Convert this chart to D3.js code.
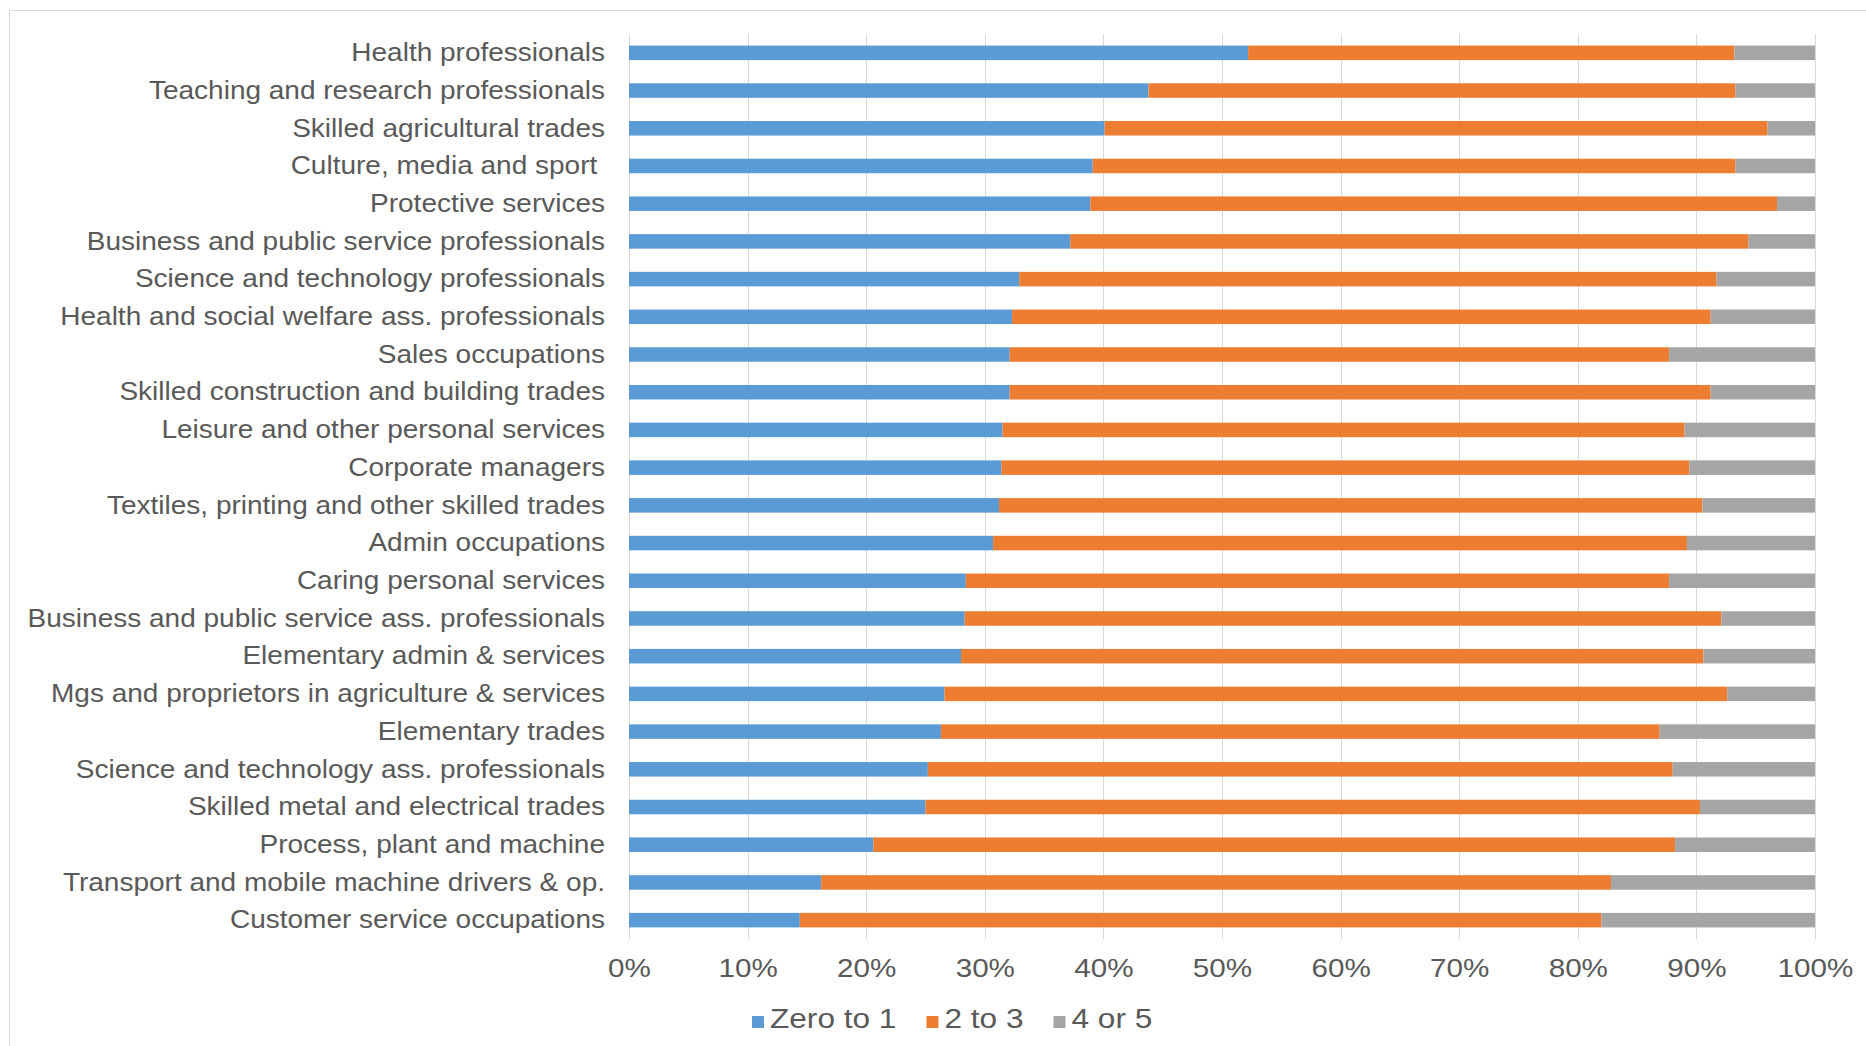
<!DOCTYPE html>
<html>
<head>
<meta charset="utf-8">
<script src="https://cdn.jsdelivr.net/npm/d3@7"></script>
<style>
  html, body { margin: 0; padding: 0; background: #fff; }
  svg { display: block; }
  text { font-family: "Liberation Sans", Arial, sans-serif; fill: #595959; }
</style>
</head>
<body>
<svg id="chart" width="1866" height="1046"></svg>
<script>
// Occupational groups, top to bottom
const categories = [
  "Health professionals",
  "Teaching and research professionals",
  "Skilled agricultural trades",
  "Culture, media and sport ",
  "Protective services",
  "Business and public service professionals",
  "Science and technology professionals",
  "Health and social welfare ass. professionals",
  "Sales occupations",
  "Skilled construction and building trades",
  "Leisure and other personal services",
  "Corporate managers",
  "Textiles, printing and other skilled trades",
  "Admin occupations",
  "Caring personal services",
  "Business and public service ass. professionals",
  "Elementary admin & services",
  "Mgs and proprietors in agriculture & services",
  "Elementary trades",
  "Science and technology ass. professionals",
  "Skilled metal and electrical trades",
  "Process, plant and machine",
  "Transport and mobile machine drivers & op.",
  "Customer service occupations"
];

// Share of workers in each band (percent)
const zeroToOne  = [52.2, 43.8, 40.1, 39.1, 38.9, 37.2, 32.9, 32.3, 32.1, 32.1, 31.5, 31.4,
                    31.2, 30.7, 28.4, 28.3, 28.0, 26.6, 26.3, 25.2, 25.0, 20.6, 16.2, 14.4];
const twoToThree = [41.0, 49.5, 55.9, 54.2, 57.9, 57.2, 58.8, 58.9, 55.6, 59.1, 57.5, 58.0,
                    59.3, 58.5, 59.3, 63.8, 62.6, 66.0, 60.6, 62.8, 65.3, 67.6, 66.6, 67.6];
const fourOrFive = [ 6.8,  6.7,  4.0,  6.7,  3.2,  5.6,  8.3,  8.8, 12.3,  8.8, 11.0, 10.6,
                     9.5, 10.8, 12.3,  7.9,  9.4,  7.4, 13.1, 12.0,  9.7, 11.8, 17.2, 18.0];

const seriesNames = ["Zero to 1", "2 to 3", "4 or 5"];
const seriesColors = ["#5B9BD5", "#ED7D31", "#A5A5A5"];
const xTickValues = [0, 10, 20, 30, 40, 50, 60, 70, 80, 90, 100];

const rows = categories.map((c, i) => ({
  category: c,
  "Zero to 1": zeroToOne[i],
  "2 to 3": twoToThree[i],
  "4 or 5": fourOrFive[i]
}));

const svg = d3.select("#chart");

// widen glyphs horizontally to the chart's text proportions
function stretch(sel, k) {
  sel.each(function () {
    const w = this.getComputedTextLength();
    this.setAttribute("textLength", w * k);
    this.setAttribute("lengthAdjust", "spacingAndGlyphs");
  });
}

// chart frame
svg.append("rect")
  .attr("x", 9.5).attr("y", 10.5)
  .attr("width", 1900).attr("height", 1100)
  .attr("fill", "none").attr("stroke", "#D9D9D9").attr("stroke-width", 1);

const plot = { left: 629, right: 1815, top: 34, bottom: 939 };

const x = d3.scaleLinear().domain([0, 100]).range([plot.left, plot.right]);
const y = d3.scaleBand()
  .domain(categories)
  .range([plot.top, plot.bottom])
  .paddingInner(0.615)
  .paddingOuter(0.3075);

// vertical gridlines
svg.append("g")
  .selectAll("line")
  .data(xTickValues)
  .join("line")
  .attr("x1", d => Math.round(x(d)) + 0.5)
  .attr("x2", d => Math.round(x(d)) + 0.5)
  .attr("y1", plot.top)
  .attr("y2", plot.bottom)
  .attr("stroke", "#D9D9D9")
  .attr("stroke-width", 1);

// stacked bars
const stacked = d3.stack().keys(seriesNames)(rows);
const color = d3.scaleOrdinal().domain(seriesNames).range(seriesColors);

svg.append("g")
  .selectAll("g")
  .data(stacked)
  .join("g")
  .attr("fill", d => color(d.key))
  .selectAll("rect")
  .data(d => d)
  .join("rect")
  .attr("x", d => x(d[0]))
  .attr("y", d => y(d.data.category))
  .attr("width", d => x(d[1]) - x(d[0]))
  .attr("height", y.bandwidth());

// category axis
const yAxis = svg.append("g")
  .attr("transform", `translate(${plot.left},0)`)
  .call(d3.axisLeft(y).tickSize(0).tickPadding(24));
yAxis.select(".domain").remove();
yAxis.selectAll("text")
  .attr("font-size", 25)
  .style("font-family", '"Liberation Sans", Arial, sans-serif')
  .style("fill", "#595959")
  .style("white-space", "pre")
  .attr("dy", "0.33em");
stretch(yAxis.selectAll("text"), 1.12);

// percentage axis
const xAxis = svg.append("g")
  .attr("transform", `translate(0,${plot.bottom})`)
  .call(d3.axisBottom(x).tickValues(xTickValues).tickFormat(d => d + "%").tickSize(0));
xAxis.select(".domain").remove();
xAxis.selectAll("text")
  .attr("font-size", 26)
  .style("font-family", '"Liberation Sans", Arial, sans-serif')
  .style("fill", "#595959")
  .attr("y", 38)
  .attr("dy", 0);
stretch(xAxis.selectAll("text"), 1.14);

// legend
const legend = svg.append("g").attr("transform", "translate(752,1028)");
let lx = 0;
seriesNames.forEach((name, i) => {
  const item = legend.append("g").attr("transform", `translate(${lx},0)`);
  item.append("rect")
    .attr("x", 0).attr("y", -12)
    .attr("width", 12).attr("height", 12)
    .attr("fill", seriesColors[i]);
  const t = item.append("text")
    .attr("x", 18).attr("y", 0)
    .attr("font-size", 27)
    .text(name);
  stretch(t, 1.17);
  lx += 18 + (+t.attr("textLength")) + 30;
});
</script>
</body>
</html>
